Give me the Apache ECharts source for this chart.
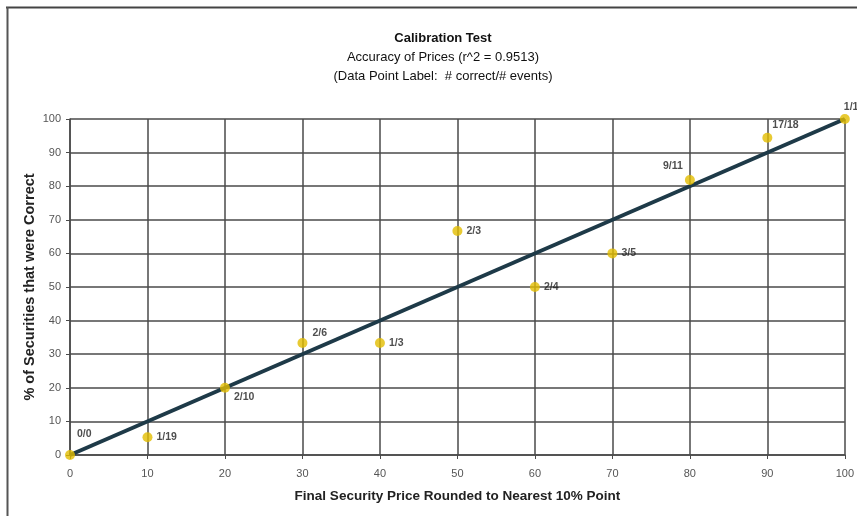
<!DOCTYPE html>
<html>
<head>
<meta charset="utf-8">
<script src="https://cdn.jsdelivr.net/npm/echarts@6/dist/echarts.min.js"></script>
<style>html,body{margin:0;padding:0;background:#fff}#c{width:857px;height:516px}</style>
</head>
<body>
<div id="c"></div>
<script>
const xValues = [0, 10, 20, 30, 40, 50, 60, 70, 80, 90, 100];
const yValues = [0, 5.26, 20, 33.33, 33.33, 66.67, 50, 60, 81.82, 94.44, 100];
const pointLabels = ['0/0', '1/19', '2/10', '2/6', '1/3', '2/3', '2/4', '3/5', '9/11', '17/18', '1/1'];
const fitLineX = [0, 100];
const fitLineY = [0, 100];

const labelPlacement = {
  '0/0': {position: 'right', offset: [-2, -21]},
  '2/10': {position: 'right', offset: [0, 9]},
  '2/6': {position: 'right', offset: [1, -10]},
  '9/11': {position: 'left', offset: [2, -14]},
  '17/18': {position: 'right', offset: [-4, -13]},
  '1/1': {position: 'right', offset: [-10, -12]}
};

const chart = echarts.init(document.getElementById('c'));
const font = 'Liberation Sans, Arial, sans-serif';
const gridColor = '#4a4a4a';

const scatterData = xValues.map((x, i) => {
  const p = labelPlacement[pointLabels[i]] || {position: 'right', offset: [0, 0]};
  return {value: [x, yValues[i]], label: {position: p.position, offset: p.offset}};
});

chart.setOption({
  animation: false,
  backgroundColor: '#fff',
  title: [
    {text: 'Calibration Test', left: 438, top: 27, textAlign: 'center',
     textStyle: {fontFamily: font, fontSize: 13, fontWeight: 'bold', color: '#111'}},
    {text: 'Accuracy of Prices (r^2 = 0.9513)', left: 438, top: 46, textAlign: 'center',
     textStyle: {fontFamily: font, fontSize: 13, fontWeight: 'normal', color: '#111'}},
    {text: '(Data Point Label:  # correct/# events)', left: 438, top: 65, textAlign: 'center',
     textStyle: {fontFamily: font, fontSize: 13, fontWeight: 'normal', color: '#111'}}
  ],
  graphic: [
    {type: 'line', shape: {x1: 6, y1: 7.5, x2: 857, y2: 7.5}, style: {stroke: '#444', lineWidth: 2}},
    {type: 'line', shape: {x1: 7.5, y1: 7, x2: 7.5, y2: 516}, style: {stroke: '#555', lineWidth: 2}}
  ],
  grid: {left: 70, right: 10, top: 119, bottom: 61, containLabel: false},
  xAxis: {
    type: 'value', min: 0, max: 100, interval: 10,
    name: 'Final Security Price Rounded to Nearest 10% Point',
    nameLocation: 'middle', nameGap: 34,
    nameTextStyle: {fontFamily: font, fontSize: 13.5, fontWeight: 'bold', color: '#222'},
    axisLine: {show: true, lineStyle: {color: gridColor, width: 1.5}},
    axisTick: {show: true, length: 4, lineStyle: {color: gridColor}},
    axisLabel: {fontFamily: font, fontSize: 11, color: '#555', margin: 13},
    splitLine: {show: true, lineStyle: {color: gridColor, width: 1.5}}
  },
  yAxis: {
    type: 'value', min: 0, max: 100, interval: 10,
    name: '% of Securities that were Correct',
    nameLocation: 'middle', nameGap: 33, nameMoveOverlap: false,
    nameTextStyle: {fontFamily: font, fontSize: 14.5, fontWeight: 'bold', color: '#222'},
    axisLine: {show: true, lineStyle: {color: gridColor, width: 1.5}},
    axisTick: {show: true, length: 4, lineStyle: {color: gridColor}},
    axisLabel: {fontFamily: font, fontSize: 11, color: '#555', margin: 9},
    splitLine: {show: true, lineStyle: {color: gridColor, width: 1.5}}
  },
  series: [
    {
      type: 'line',
      data: fitLineX.map((x, i) => [x, fitLineY[i]]),
      symbol: 'none',
      lineStyle: {color: '#1e3a48', width: 4},
      z: 2
    },
    {
      type: 'scatter',
      data: scatterData,
      symbolSize: 10,
      itemStyle: {color: '#e2bd00'},
      label: {
        show: true,
        formatter: (p) => pointLabels[p.dataIndex],
        fontFamily: font, fontSize: 10.5, fontWeight: 'bold', color: '#222', distance: 4
      },
      z: 3
    }
  ]
});
</script>
</body>
</html>
